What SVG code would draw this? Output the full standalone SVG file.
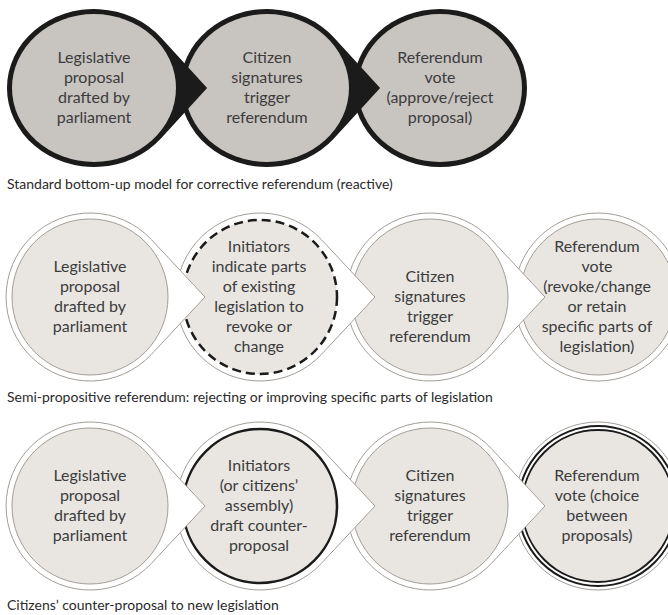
<svg xmlns="http://www.w3.org/2000/svg" xmlns:xlink="http://www.w3.org/1999/xlink" width="668" height="615" viewBox="0 0 668 615">
<style>
.lbl{font-family:Lato,"Open Sans","Liberation Sans",sans-serif;font-size:16px;fill:#3c3c3c;text-anchor:middle}
.cap{font-family:Lato,"Open Sans","Liberation Sans",sans-serif;font-size:14px;fill:#2a2a2a}
.tdark{fill:#1b1b1b;stroke:none}
.fdark{fill:#c8c4c0;stroke:none}
.tlight{fill:#ffffff;stroke:#a39d97;stroke-width:1}
.flight{fill:#e9e6e2;stroke:#a39d97;stroke-width:1}
</style>
<defs>
<path id="tdU" d="M1.30,0 L0.769,-0.639 A1,1 0 1 0 0.769,0.639 Z"/>
<path id="tdM" d="M115,0 L61.4,-57.4 A84,84 0 1 0 61.4,57.4 Z"/>
</defs>
<g id="connectors"/>

<!-- Row 1 -->
<g id="r1n3">
<ellipse class="tdark" cx="440" cy="88" rx="87" ry="79"/>
<ellipse class="fdark" cx="440" cy="88" rx="82" ry="74"/>
<text class="lbl"><tspan x="440" y="63">Referendum</tspan><tspan x="440" y="83">vote</tspan><tspan x="440" y="103">(approve/reject</tspan><tspan x="440" y="123">proposal)</tspan></text>
</g>
<g id="r1n2">
<use href="#tdU" class="tdark" transform="translate(267,88) scale(87,79)"/>
<ellipse class="fdark" cx="267" cy="88" rx="82" ry="74"/>
<text class="lbl"><tspan x="267" y="63">Citizen</tspan><tspan x="267" y="83">signatures</tspan><tspan x="267" y="103">trigger</tspan><tspan x="267" y="123">referendum</tspan></text>
</g>
<g id="r1n1">
<use href="#tdU" class="tdark" transform="translate(94,88) scale(87,79)"/>
<ellipse class="fdark" cx="94" cy="88" rx="82" ry="74"/>
<text class="lbl"><tspan x="94" y="63">Legislative</tspan><tspan x="94" y="83">proposal</tspan><tspan x="94" y="103">drafted by</tspan><tspan x="94" y="123">parliament</tspan></text>
</g>
<text class="cap" x="7" y="189">Standard bottom-up model for corrective referendum (reactive)</text>

<!-- Row 2 -->
<g id="r2n4">
<circle class="tlight" cx="598" cy="297" r="84"/>
<circle class="flight" cx="598" cy="297" r="78"/>
<text class="lbl"><tspan x="597" y="252">Referendum</tspan><tspan x="597" y="272">vote</tspan><tspan x="597" y="292">(revoke/change</tspan><tspan x="597" y="312">or retain</tspan><tspan x="597" y="332">specific parts of</tspan><tspan x="597" y="352">legislation)</tspan></text>
</g>
<g id="r2n3">
<use href="#tdM" class="tlight" x="430" y="297"/>
<circle class="flight" cx="430" cy="297" r="78"/>
<text class="lbl"><tspan x="430" y="282">Citizen</tspan><tspan x="430" y="302">signatures</tspan><tspan x="430" y="322">trigger</tspan><tspan x="430" y="342">referendum</tspan></text>
</g>
<g id="r2n2">
<use href="#tdM" class="tlight" x="260" y="297"/>
<circle cx="260" cy="297" r="77" fill="#e9e6e2" stroke="#1b1b1b" stroke-width="2.5" stroke-dasharray="9 5"/>
<text class="lbl"><tspan x="259" y="252">Initiators</tspan><tspan x="259" y="272">indicate parts</tspan><tspan x="259" y="292">of existing</tspan><tspan x="259" y="312">legislation to</tspan><tspan x="259" y="332">revoke or</tspan><tspan x="259" y="352">change</tspan></text>
</g>
<g id="r2n1">
<use href="#tdM" class="tlight" x="90" y="297"/>
<circle class="flight" cx="90" cy="297" r="78"/>
<text class="lbl"><tspan x="90" y="272">Legislative</tspan><tspan x="90" y="292">proposal</tspan><tspan x="90" y="312">drafted by</tspan><tspan x="90" y="332">parliament</tspan></text>
</g>
<text class="cap" x="7" y="402">Semi-propositive referendum: rejecting or improving specific parts of legislation</text>

<!-- Row 3 -->
<g id="r3n4">
<circle class="tlight" cx="598" cy="506" r="84"/>
<circle cx="598" cy="506" r="78" fill="#e9e6e2" stroke="#1b1b1b" stroke-width="6"/>
<circle cx="598" cy="506" r="78" fill="none" stroke="#ffffff" stroke-width="2"/>
<text class="lbl"><tspan x="597" y="481">Referendum</tspan><tspan x="597" y="501">vote (choice</tspan><tspan x="597" y="521">between</tspan><tspan x="597" y="541">proposals)</tspan></text>
</g>
<g id="r3n3">
<use href="#tdM" class="tlight" x="430" y="506"/>
<circle class="flight" cx="430" cy="506" r="78"/>
<text class="lbl"><tspan x="430" y="481">Citizen</tspan><tspan x="430" y="501">signatures</tspan><tspan x="430" y="521">trigger</tspan><tspan x="430" y="541">referendum</tspan></text>
</g>
<g id="r3n2">
<use href="#tdM" class="tlight" x="260" y="506"/>
<circle cx="260" cy="506" r="77" fill="#e9e6e2" stroke="#1b1b1b" stroke-width="2.5"/>
<text class="lbl"><tspan x="259" y="471">Initiators</tspan><tspan x="259" y="491">(or citizens’</tspan><tspan x="259" y="511">assembly)</tspan><tspan x="259" y="531">draft counter-</tspan><tspan x="259" y="551">proposal</tspan></text>
</g>
<g id="r3n1">
<use href="#tdM" class="tlight" x="90" y="506"/>
<circle class="flight" cx="90" cy="506" r="78"/>
<text class="lbl"><tspan x="90" y="481">Legislative</tspan><tspan x="90" y="501">proposal</tspan><tspan x="90" y="521">drafted by</tspan><tspan x="90" y="541">parliament</tspan></text>
</g>
<text class="cap" x="7" y="610">Citizens’ counter-proposal to new legislation</text>
</svg>
